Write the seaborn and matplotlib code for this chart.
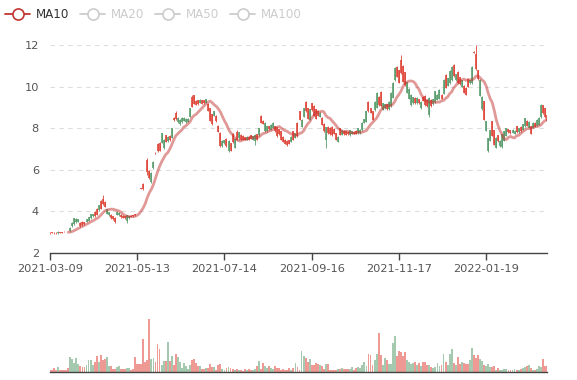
import numpy as np
import pandas as pd
import matplotlib
matplotlib.use("Agg")
import matplotlib.pyplot as plt
import seaborn as sns
from matplotlib.lines import Line2D

# ---------------- data ----------------
open_ = [
    2.93, 2.95, 2.95, 2.94, 3.02, 2.95, 2.97, 2.99, 3.00, 3.00,
    3.20, 3.45, 3.65, 3.62, 3.60, 3.28, 3.35, 3.38, 3.60, 3.70,
    3.85, 3.86, 3.75, 3.82, 4.30, 4.12, 4.35, 4.22, 4.10, 3.95,
    3.65, 3.60, 3.50, 3.98, 3.92, 3.70, 3.68, 3.66, 3.80, 3.75,
    3.72, 3.76, 3.80, 4.21, 4.63, 5.09, 5.05, 5.84, 5.90, 5.60,
    5.85, 6.36, 6.78, 6.88, 6.92, 7.75, 7.45, 7.35, 7.58, 7.42,
    8.00, 8.38, 8.42, 8.50, 8.40, 8.50, 8.50, 8.45, 8.45, 8.95,
    9.02, 9.18, 9.12, 9.15, 9.35, 9.18, 9.20, 9.40, 8.82, 8.35,
    8.18, 8.80, 8.32, 7.82, 7.15, 7.40, 7.43, 7.12, 7.40, 6.92,
    7.32, 7.48, 7.45, 7.80, 7.45, 7.45, 7.45, 7.58, 7.45, 7.48,
    7.60, 7.65, 7.45, 8.00, 8.25, 8.20, 8.25, 8.10, 7.95, 8.15,
    8.25, 7.85, 7.60, 7.70, 7.45, 7.35, 7.25, 7.18, 7.25, 7.58,
    7.43, 7.75, 7.60, 8.40, 8.40, 8.97, 8.80, 8.45, 8.90, 8.85,
    8.60, 8.45, 8.60, 8.75, 8.15, 7.85, 8.05, 7.75, 7.70, 7.65,
    7.72, 7.45, 7.58, 7.67, 7.90, 7.70, 7.68, 7.70, 7.90, 7.85,
    7.72, 7.72, 7.98, 7.92, 8.25, 8.44, 8.80, 8.80, 8.73, 8.40,
    9.27, 9.70, 9.10, 9.05, 9.20, 9.15, 8.90, 9.25, 9.70, 10.17,
    10.90, 10.47, 10.17, 10.64, 10.23, 10.07, 10.20, 9.90, 9.60, 9.50,
    9.20, 9.45, 9.20, 9.25, 9.30, 9.10, 9.05, 9.45, 9.05, 9.40,
    9.77, 9.60, 9.85, 9.40, 10.33, 9.95, 10.40, 10.75, 10.95, 10.50,
    10.60, 10.15, 10.10, 10.30, 9.70, 9.60, 10.00, 10.30, 10.95, 11.62,
    10.85, 10.35, 10.33, 9.50, 8.40, 8.34, 7.50, 7.90, 7.62, 7.20,
    7.52, 7.36, 7.40, 7.70, 7.84, 8.00, 7.80, 7.75, 7.92, 7.88,
    7.80, 7.98, 7.85, 8.20, 8.48, 8.10, 8.30, 7.72, 8.25, 8.05,
    8.40, 8.50, 9.13, 8.72, 8.52, 8.32,
]
close_ = [
    2.96, 2.99, 2.97, 2.96, 2.94, 2.99, 3.01, 3.02, 3.01, 3.01,
    3.05, 3.28, 3.40, 3.50, 3.50, 3.45, 3.50, 3.48, 3.50, 3.55,
    3.65, 3.75, 3.98, 4.12, 4.05, 4.50, 4.60, 4.45, 3.88, 3.80,
    3.82, 3.75, 3.68, 3.82, 3.80, 3.82, 3.78, 3.76, 3.55, 3.65,
    3.78, 3.80, 3.84, 4.22, 4.64, 5.10, 5.32, 5.85, 6.45, 5.95,
    5.40, 6.10, 6.82, 7.25, 7.28, 7.30, 7.02, 7.65, 7.36, 7.62,
    7.52, 8.50, 8.75, 8.28, 8.18, 8.27, 8.36, 8.27, 8.30, 8.55,
    9.50, 9.58, 9.32, 9.33, 9.22, 9.35, 9.33, 9.22, 9.18, 8.95,
    8.68, 8.60, 8.58, 8.12, 7.78, 7.12, 7.28, 7.48, 6.88, 7.28,
    7.72, 7.05, 7.80, 7.50, 7.68, 7.62, 7.55, 7.45, 7.58, 7.65,
    7.45, 7.38, 7.70, 7.65, 8.58, 8.35, 7.85, 7.85, 8.10, 7.92,
    8.00, 8.08, 8.05, 7.95, 7.85, 7.58, 7.45, 7.40, 7.42, 7.35,
    7.85, 7.52, 8.25, 8.80, 8.05, 8.55, 9.25, 8.95, 8.40, 9.20,
    9.05, 8.90, 8.80, 8.55, 8.50, 8.20, 7.45, 8.05, 8.00, 8.05,
    7.95, 7.75, 7.35, 8.00, 7.67, 7.88, 7.85, 7.82, 7.65, 7.72,
    7.83, 7.88, 7.75, 7.75, 7.90, 8.25, 8.30, 9.27, 8.97, 8.80,
    8.85, 8.97, 9.50, 9.75, 8.87, 8.95, 9.15, 8.90, 9.05, 9.45,
    10.30, 10.95, 10.80, 11.30, 11.00, 10.70, 9.70, 9.40, 9.10, 9.20,
    9.45, 9.20, 9.40, 8.95, 9.50, 9.55, 9.35, 8.65, 9.35, 9.15,
    9.25, 9.35, 9.40, 9.60, 9.65, 10.55, 10.05, 10.15, 10.30, 11.05,
    10.30, 10.70, 10.45, 10.00, 10.05, 9.95, 10.35, 10.15, 10.15, 11.68,
    11.55, 10.80, 9.55, 8.90, 9.30, 7.88, 6.92, 7.40, 8.32, 7.90,
    7.05, 7.66, 7.12, 7.10, 7.38, 7.62, 7.95, 7.90, 7.78, 7.72,
    8.10, 7.80, 8.05, 7.92, 8.10, 8.35, 8.02, 8.08, 8.02, 8.25,
    8.10, 8.15, 8.55, 9.10, 8.95, 8.62,
]
high_ = [
    2.98, 3.00, 2.99, 2.98, 3.05, 3.00, 3.02, 3.03, 3.02, 3.02,
    3.22, 3.48, 3.68, 3.66, 3.63, 3.48, 3.52, 3.50, 3.62, 3.72,
    3.88, 3.88, 4.00, 4.15, 4.32, 4.55, 4.80, 4.50, 4.12, 3.98,
    3.85, 3.78, 3.70, 4.00, 3.95, 3.85, 3.80, 3.78, 3.82, 3.78,
    3.80, 3.82, 3.86, 4.22, 4.64, 5.10, 5.36, 5.86, 6.55, 6.00,
    5.88, 6.40, 6.84, 7.30, 7.32, 7.78, 7.48, 7.68, 7.60, 7.65,
    8.02, 8.52, 8.80, 8.52, 8.42, 8.52, 8.52, 8.48, 8.48, 8.97,
    9.60, 9.60, 9.35, 9.36, 9.38, 9.37, 9.36, 9.42, 9.22, 8.97,
    8.70, 8.82, 8.62, 8.15, 7.80, 7.42, 7.45, 7.50, 7.42, 7.30,
    7.75, 7.50, 7.90, 7.83, 7.70, 7.65, 7.58, 7.60, 7.60, 7.67,
    7.62, 7.70, 7.72, 8.02, 8.62, 8.38, 8.28, 8.12, 8.12, 8.18,
    8.27, 8.10, 8.07, 7.97, 7.88, 7.60, 7.48, 7.43, 7.45, 7.60,
    7.88, 7.77, 8.28, 8.82, 8.42, 8.99, 9.30, 8.98, 8.92, 9.22,
    9.10, 8.93, 8.82, 8.78, 8.55, 8.25, 8.07, 8.08, 8.03, 8.08,
    7.98, 7.78, 7.60, 8.02, 7.92, 7.90, 7.88, 7.85, 7.92, 7.88,
    7.85, 7.90, 8.00, 7.95, 8.27, 8.46, 8.82, 9.30, 8.99, 8.82,
    9.29, 9.72, 9.55, 9.78, 9.22, 9.18, 9.18, 9.28, 9.72, 10.20,
    10.92, 10.98, 10.82, 11.52, 11.05, 10.72, 10.22, 9.93, 9.62, 9.52,
    9.48, 9.48, 9.42, 9.28, 9.55, 9.60, 9.38, 9.50, 9.38, 9.42,
    9.80, 9.62, 9.87, 9.62, 10.35, 10.58, 10.42, 10.78, 10.98, 11.10,
    10.62, 10.75, 10.48, 10.32, 10.08, 9.98, 10.38, 10.32, 10.98, 11.72,
    12.00, 10.82, 10.36, 9.53, 9.32, 8.36, 7.52, 7.92, 8.35, 7.92,
    7.55, 7.68, 7.42, 7.72, 7.86, 8.02, 7.97, 7.92, 7.95, 7.90,
    8.12, 8.00, 8.08, 8.22, 8.50, 8.38, 8.32, 8.10, 8.27, 8.28,
    8.42, 8.52, 9.15, 9.13, 8.97, 8.65,
]
low_ = [
    2.91, 2.94, 2.92, 2.92, 2.90, 2.94, 2.96, 2.98, 2.98, 2.99,
    3.02, 3.25, 3.35, 3.45, 3.46, 3.25, 3.30, 3.35, 3.47, 3.52,
    3.60, 3.72, 3.74, 3.80, 4.00, 4.10, 4.30, 4.20, 3.85, 3.75,
    3.62, 3.58, 3.45, 3.80, 3.78, 3.68, 3.65, 3.64, 3.45, 3.62,
    3.70, 3.74, 3.78, 4.21, 4.63, 5.09, 5.00, 5.84, 5.75, 5.55,
    5.35, 6.05, 6.76, 6.85, 6.90, 7.28, 7.00, 7.33, 7.34, 7.40,
    7.50, 8.36, 8.40, 8.25, 8.15, 8.25, 8.34, 8.25, 8.28, 8.52,
    9.00, 9.15, 9.10, 9.13, 9.20, 9.16, 9.18, 9.20, 8.80, 8.32,
    8.15, 8.58, 8.30, 7.80, 7.10, 7.10, 7.25, 7.10, 6.85, 6.90,
    7.30, 7.02, 7.42, 7.45, 7.43, 7.43, 7.43, 7.43, 7.43, 7.46,
    7.43, 7.20, 7.43, 7.62, 8.23, 8.18, 7.83, 7.83, 7.93, 7.90,
    7.98, 7.83, 7.58, 7.68, 7.43, 7.33, 7.23, 7.16, 7.23, 7.33,
    7.41, 7.50, 7.58, 8.38, 8.03, 8.53, 8.78, 8.43, 8.38, 8.83,
    8.58, 8.43, 8.58, 8.53, 8.13, 7.83, 7.03, 7.73, 7.68, 7.63,
    7.70, 7.43, 7.33, 7.65, 7.65, 7.68, 7.66, 7.68, 7.63, 7.70,
    7.70, 7.70, 7.73, 7.73, 7.88, 8.23, 8.28, 8.78, 8.71, 8.38,
    8.83, 8.95, 9.08, 9.03, 8.85, 8.93, 8.88, 8.88, 9.03, 9.43,
    10.28, 10.45, 10.15, 10.62, 10.21, 10.05, 9.68, 9.38, 9.08, 9.18,
    9.18, 9.18, 9.18, 8.93, 9.28, 9.05, 9.03, 8.55, 9.03, 9.13,
    9.23, 9.33, 9.38, 9.38, 9.62, 9.93, 10.03, 10.13, 10.28, 10.48,
    10.28, 10.13, 10.08, 9.98, 9.68, 9.58, 9.98, 10.13, 10.13, 11.60,
    10.80, 10.33, 9.53, 8.88, 8.38, 7.86, 6.85, 7.38, 7.60, 7.18,
    7.03, 7.34, 7.10, 7.04, 7.36, 7.60, 7.78, 7.73, 7.76, 7.70,
    7.78, 7.78, 7.83, 7.90, 8.07, 8.08, 8.00, 7.70, 8.00, 8.03,
    8.08, 8.13, 8.50, 8.70, 8.50, 8.30,
]
volume = [
    2, 2, 4, 2, 5, 2, 2, 2, 2, 4,
    15, 13, 9, 14, 8, 6, 5, 5, 7, 12,
    12, 7, 10, 16, 10, 17, 12, 13, 15, 6,
    6, 3, 3, 5, 6, 3, 3, 3, 4, 4,
    2, 3, 15, 8, 8, 8, 33, 10, 12, 53,
    13, 14, 10, 28, 23, 7, 11, 11, 30, 11,
    16, 7, 18, 15, 10, 4, 9, 6, 3, 7,
    12, 13, 9, 6, 6, 3, 3, 4, 4, 8,
    5, 5, 2, 7, 8, 3, 2, 4, 5, 4,
    3, 2, 3, 2, 2, 1, 3, 2, 3, 2,
    2, 3, 6, 11, 3, 9, 6, 4, 6, 4,
    3, 6, 4, 4, 2, 3, 2, 2, 4, 2,
    4, 9, 5, 2, 21, 16, 14, 10, 13, 7,
    7, 9, 8, 7, 6, 3, 8, 8, 2, 2,
    2, 2, 3, 3, 4, 3, 3, 3, 3, 5,
    2, 4, 5, 4, 7, 10, 6, 18, 17, 7,
    12, 18, 39, 17, 7, 14, 12, 8, 8, 29,
    36, 16, 21, 20, 16, 20, 12, 10, 8, 9,
    10, 7, 9, 6, 10, 10, 7, 7, 5, 4,
    5, 9, 6, 7, 18, 10, 7, 18, 23, 9,
    7, 15, 8, 10, 9, 8, 8, 12, 24, 17,
    14, 17, 13, 11, 7, 6, 8, 5, 5, 6,
    2, 4, 2, 2, 3, 3, 2, 2, 2, 3,
    2, 2, 3, 4, 5, 6, 7, 4, 2, 2,
    3, 6, 5, 13, 6, 6,
]
tick_labels = ["2021-03-09", "2021-05-13", "2021-07-14",
               "2021-09-16", "2021-11-17", "2022-01-19"]
label_interval = 43
legend_names = ["MA10", "MA20", "MA50", "MA100"]

# ---------------- style ----------------
sns.set_theme(style="white")
plt.rcParams["font.family"] = ["DejaVu Sans"]

RED = "#e0463a"
GREEN = "#5a9d6e"
MA_COLOR = "#c23531"
AXIS = "#444444"
LABEL = "#555555"

N = len(close_)
df = pd.DataFrame({"i": np.arange(N), "open": open_, "close": close_,
                   "high": high_, "low": low_, "vol": volume})
df["ma10"] = df["close"].rolling(10).mean()
up = df["close"] >= df["open"]

W, H = 577, 380
fig = plt.figure(figsize=(W / 100, H / 100), dpi=100)
ax = fig.add_axes([50 / W, 1 - 252.7 / H, 497 / W, 207.7 / H])
axv = fig.add_axes([50 / W, 1 - 372.3 / H, 497 / W, 72.3 / H])

# candles
for mask, col in ((up, RED), (~up, GREEN)):
    d = df[mask]
    ax.vlines(d["i"], d["low"], d["high"], color=col, lw=0.6, zorder=3)
    ax.vlines(d["i"], np.minimum(d["open"], d["close"]),
              np.maximum(d["open"], d["close"]), color=col, lw=1.2, zorder=3)

# MA10 line
sns.lineplot(data=df.dropna(subset=["ma10"]), x="i", y="ma10", ax=ax,
             color=MA_COLOR, alpha=0.5, lw=2.0, legend=False, zorder=4)

ax.set_xlim(0, N - 1)
ax.set_ylim(2, 12)
ax.set_yticks([2, 4, 6, 8, 10, 12])
ax.set_yticklabels(["2", "4", "6", "8", "10", "12"])
ticks = [k * label_interval for k in range(len(tick_labels))]
ax.set_xticks(ticks)
ax.set_xticklabels(tick_labels)
ax.set_xlabel("")
ax.set_ylabel("")
ax.yaxis.grid(True, color="#dddddd", linestyle=(0, (4, 4)), lw=0.8)
ax.xaxis.grid(False)
for s in ("top", "right", "left"):
    ax.spines[s].set_visible(False)
ax.spines["bottom"].set_color(AXIS)
ax.spines["bottom"].set_linewidth(1.0)
ax.tick_params(axis="x", length=5, width=1, color=AXIS, direction="out",
               pad=3, labelsize=8.2, labelcolor=LABEL, bottom=True)
ax.tick_params(axis="y", length=0, pad=8, labelsize=8.2, labelcolor=LABEL)

# volume
for mask, col in ((up, RED), (~up, GREEN)):
    d = df[mask]
    axv.bar(d["i"], d["vol"], width=0.92, color=col, alpha=0.55, lw=0)
axv.set_xlim(0, N - 1)
axv.set_ylim(0, 72.3)
axv.set_xticks([])
axv.set_yticks([])
axv.grid(False)
for s in ("top", "right", "left"):
    axv.spines[s].set_visible(False)
axv.spines["bottom"].set_color(AXIS)
axv.spines["bottom"].set_linewidth(1.0)

# legend
ly = 1 - 14 / H
xs = [5, 80, 155, 230]
for k, (x0, name) in enumerate(zip(xs, legend_names)):
    col = MA_COLOR if k == 0 else "#cccccc"
    tcol = "#333333" if k == 0 else "#cccccc"
    fig.add_artist(Line2D([x0 / W, (x0 + 25) / W], [ly, ly],
                          transform=fig.transFigure, color=col, lw=1.3))
    fig.add_artist(Line2D([(x0 + 12.5) / W], [ly], transform=fig.transFigure,
                          marker="o", ms=8, mfc="white", mec=col, mew=1.2,
                          lw=0))
    fig.text((x0 + 31) / W, ly, name, color=tcol, fontsize=8.6,
             va="center", ha="left")

fig.savefig("out.png", dpi=100)
